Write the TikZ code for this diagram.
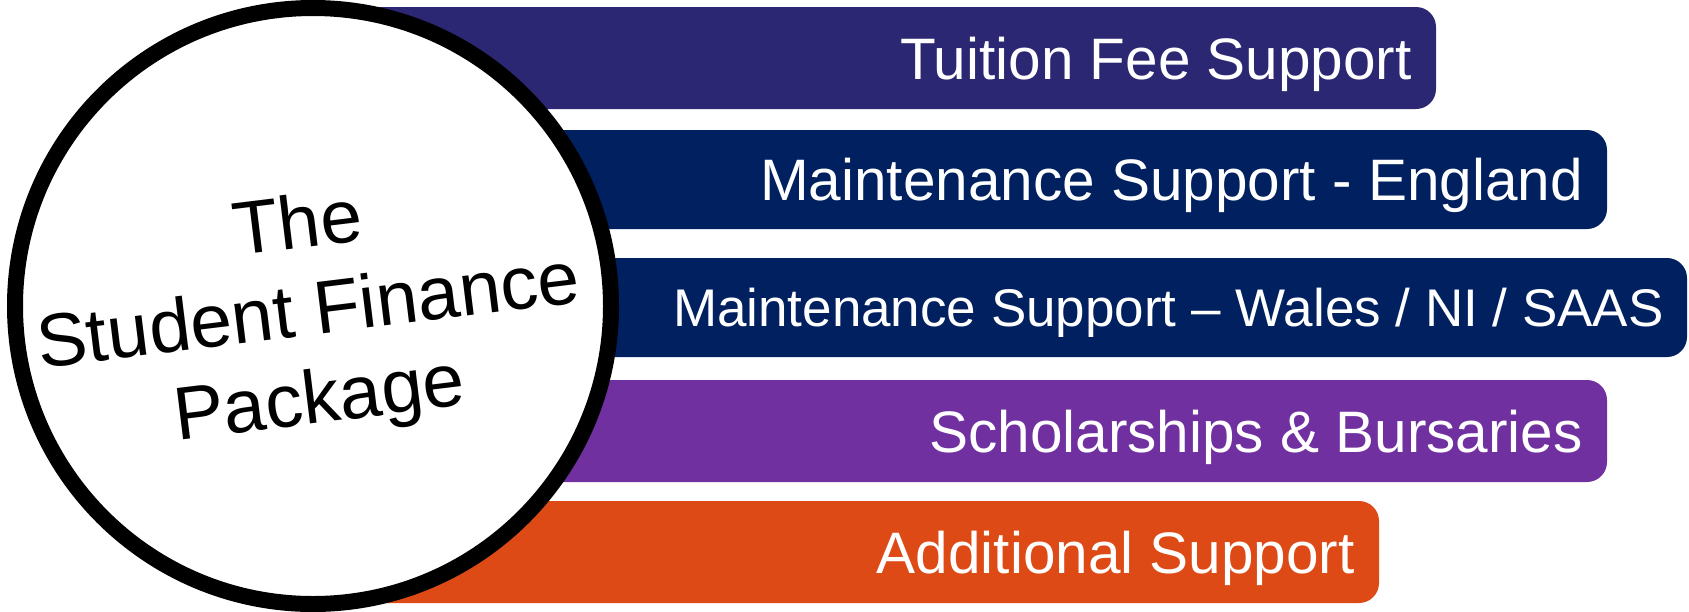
\documentclass[tikz,border=0pt]{standalone}
\usepackage{fontspec}
\setmainfont{Liberation Sans}
\definecolor{feeblue}{RGB}{43,39,114}
\definecolor{navy}{RGB}{0,32,96}
\definecolor{bursary}{RGB}{112,48,160}
\definecolor{extra}{RGB}{222,74,22}

\begin{document}
\begin{tikzpicture}[x=1pt,y=-1pt,
  bar/.style={rounded corners=20pt},
  barlabel/.style={anchor=base east,text=white,inner sep=0pt,font=\fontsize{58.5}{70}\selectfont}]
\useasboundingbox (0,0) rectangle (1689,611);
% The bars
\fill[feeblue,bar] (311,7) rectangle (1436,109);
\node[barlabel] (fee) at (1412,79) {Tuition Fee Support};
\fill[navy,bar] (311,130) rectangle (1607,229);
\node[barlabel] (england) at (1583,200) {Maintenance Support - England};
\fill[navy,bar] (311,258) rectangle (1687,357);
\node[barlabel,font=\fontsize{53}{64}\selectfont] (wales) at (1664,326) {Maintenance Support – Wales / NI / SAAS};
\fill[bursary,bar] (311,380) rectangle (1607,482);
\node[barlabel] (scholar) at (1583,452) {Scholarships \& Bursaries};
\fill[extra,bar] (311,501) rectangle (1379,603);
\node[barlabel] (additional) at (1355,573) {Additional Support};
% The circle
\node[circle,draw=black,fill=white,line width=16pt,minimum size=596pt,inner sep=0pt] (ring) at (313,306) {};
\node[rotate=7,align=center,inner sep=0pt,font=\fontsize{75}{88}\selectfont] (title) at (309,316)
  {The\\Student Finance\\Package};
\end{tikzpicture}
\end{document}
